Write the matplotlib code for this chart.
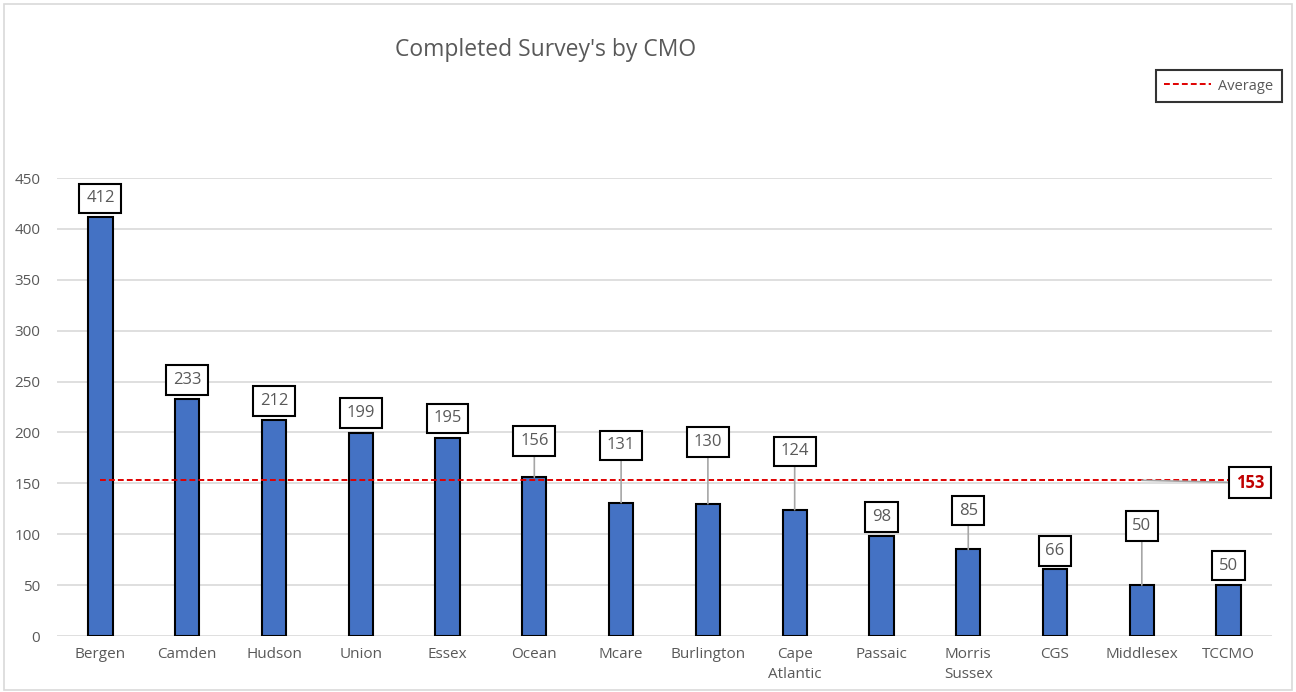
import matplotlib
matplotlib.use("Agg")
import matplotlib.pyplot as plt
from matplotlib.patches import Rectangle
from matplotlib.lines import Line2D

categories = ["Bergen", "Camden", "Hudson", "Union", "Essex", "Ocean", "Mcare",
              "Burlington", "Cape\nAtlantic", "Passaic", "Morris\nSussex", "CGS",
              "Middlesex", "TCCMO"]
surveys = [412, 233, 212, 199, 195, 156, 131, 130, 124, 98, 85, 66, 50, 50]
average = 153
yticks = [0, 50, 100, 150, 200, 250, 300, 350, 400, 450]

# label box centre heights (layout, data units)
label_y = [430, 251.5, 231, 219, 214, 191.5, 187.5, 190.5, 181.5, 117, 123, 83.5, 108, 69]
leader = [False, False, False, False, False, True, True, True, True, False, True, False, True, False]

plt.rcParams['font.family'] = ['Open Sans', 'DejaVu Sans']
gray = '#595959'

fig = plt.figure(figsize=(12.96, 6.92), dpi=100)
fig.patches.append(Rectangle((4/1296, 2/692), 1288/1296, 686/692, transform=fig.transFigure,
                             fill=False, edgecolor='#D9D9D9', linewidth=1.2))
ax = fig.add_axes([57/1296, 1-636/692, 1215/1296, (636-178)/692])

x = list(range(len(categories)))
ax.bar(x, surveys, width=0.28, color='#4472C4', edgecolor='black', linewidth=1.5, zorder=3)
ax.plot([x[0], x[-1]], [average, average], linestyle=(0, (3, 1.6)), color='#E00000',
        linewidth=1.4, zorder=4, label='Average')

ax.set_xlim(-0.5, len(categories) - 0.5)
ax.set_ylim(0, 450)
ax.set_yticks(yticks)
ax.set_xticks(x)
ax.set_xticklabels(categories, fontsize=11, color=gray, linespacing=1.45, va='top')
ax.tick_params(axis='y', labelsize=11, colors=gray, length=0, pad=12)
ax.tick_params(axis='x', length=0, pad=8)
ax.grid(axis='y', color='#D9D9D9', linewidth=1.2, zorder=0)
for s in ax.spines.values():
    s.set_visible(False)

box = dict(boxstyle='square,pad=0.4', facecolor='white', edgecolor='black', linewidth=1.5)
for i, (v, ly, ld) in enumerate(zip(surveys, label_y, leader)):
    ap = dict(arrowstyle='-', color='#A6A6A6', linewidth=1.2, shrinkA=0, shrinkB=0) if ld else None
    ax.annotate(str(v), xy=(i, v), xytext=(i, ly), ha='center', va='center',
                fontsize=12, color=gray, bbox=box, arrowprops=ap, zorder=6)

ax.annotate(str(average), xy=(12, average), xytext=(13.25, 150.5), ha='center', va='center',
            fontsize=12, color='#C00000', fontweight='bold', bbox=box,
            arrowprops=dict(arrowstyle='-', color='#A6A6A6', linewidth=1.2, shrinkA=0, shrinkB=0),
            zorder=6)

fig.text(546/1296, 1-50/692, "Completed Survey's by CMO", ha='center', va='center',
         fontsize=16.5, color=gray)

leg = ax.legend(handles=[Line2D([], [], linestyle=(0, (3, 1.6)), color='#E00000', linewidth=1.4)],
                labels=['Average'], loc='center', bbox_to_anchor=(1219/1296, 1-86/692),
                bbox_transform=fig.transFigure, fontsize=10.5, frameon=True, fancybox=False,
                handlelength=3.2, handletextpad=0.5, borderpad=0.6)
leg.get_frame().set_edgecolor('black')
leg.get_frame().set_linewidth(1.5)
for t in leg.get_texts():
    t.set_color(gray)

fig.savefig('out.png', dpi=100)
